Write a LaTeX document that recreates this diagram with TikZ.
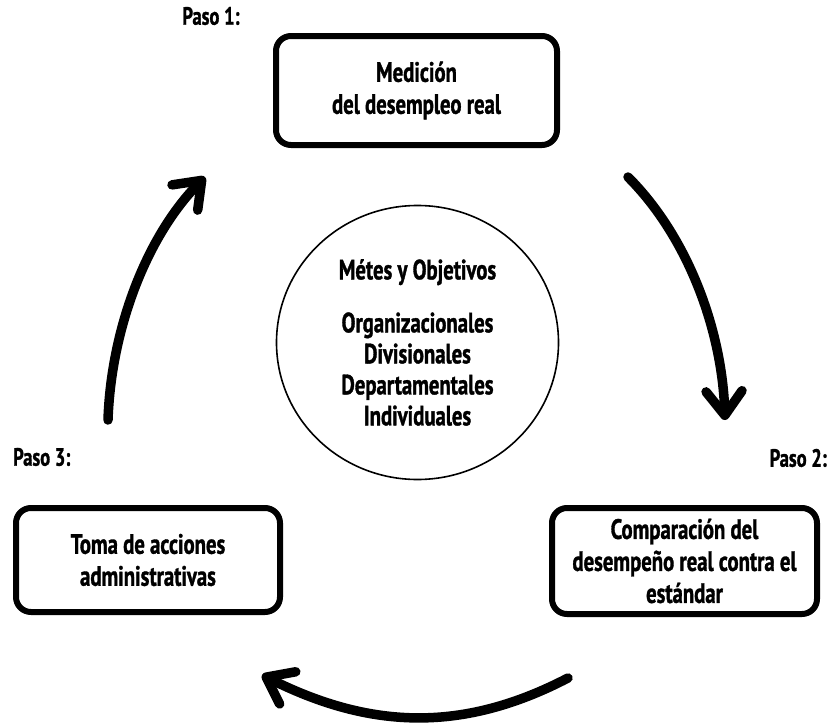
\documentclass[tikz,border=0pt]{standalone}
\usepackage{fontspec}
\setmainfont{PT Sans}[FakeStretch=0.74, BoldFeatures={FakeBold=1.2}]
\usetikzlibrary{arrows.meta,shapes.geometric}

\begin{document}
\begin{tikzpicture}[x=1pt,y=-1pt,
  stepbox/.style={draw, line width=6pt, rounded corners=15pt, align=center,
    inner sep=0pt, font=\bfseries\fontsize{28}{32}\selectfont},
  goal/.style={draw, ellipse, line width=1.6pt, fill=white, align=center,
    inner sep=0pt, font=\bfseries\fontsize{28}{31}\selectfont},
  steplabel/.style={inner sep=0pt, font=\bfseries\fontsize{25}{28}\selectfont},
  flow/.style={line width=9.5pt, line cap=round,
    -{Straight Barb[length=24pt, width=36pt, round]}}]

  \useasboundingbox (0,0) rectangle (833,723);

  % the three steps of the control cycle
  \node[stepbox, minimum width=281pt, minimum height=109pt] (measure) at (416.5,90.5)
    {Medición\\del desempleo real};
  \node[stepbox, minimum width=265pt, minimum height=106pt] (compare) at (684.5,561)
    {Comparación del\\desempeño real contra el\\estándar};
  \node[stepbox, minimum width=264pt, minimum height=104pt] (act) at (148,560)
    {Toma de acciones\\administrativas};

  % step labels
  \node[steplabel] (paso1) at (211,16) {Paso 1:};
  \node[steplabel, anchor=east] (paso2) at (827,458) {Paso 2:};
  \node[steplabel, anchor=west] (paso3) at (13,457) {Paso 3:};

  % goals in the centre
  \node[goal, minimum width=282pt, minimum height=274pt] (goals) at (417.5,342.5)
    {Métes y Objetivos\\[22pt]Organizacionales\\Divisionales\\Departamentales\\Individuales};

  % arrow end points
  \coordinate (r0) at (628,177);
  \coordinate (r1) at (725,420);
  \coordinate (b0) at (568,678);
  \coordinate (b1) at (262,675);
  \coordinate (l0) at (108,420);
  \coordinate (l1) at (205,177);

  % cycle arrows
  \draw[flow] (r0) .. controls (688,237) and (722,330) .. (r1);
  \draw[flow] (b0) .. controls (464,732) and (372,730) .. (b1);
  \draw[flow] (l0) .. controls (111,330) and (146,237) .. (l1);
\end{tikzpicture}
\end{document}
